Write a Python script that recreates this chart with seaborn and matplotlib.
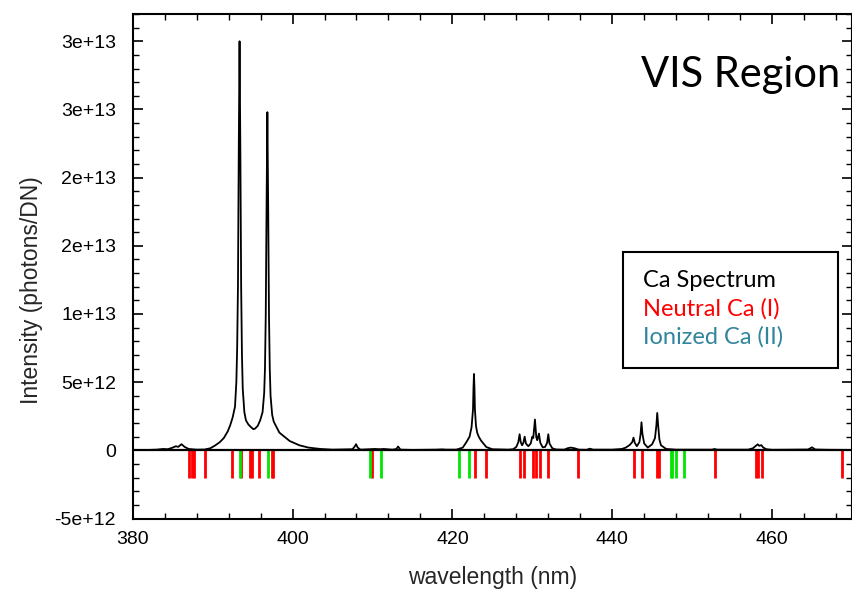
import numpy as np
import pandas as pd
import matplotlib
matplotlib.use("Agg")
import matplotlib.pyplot as plt
from matplotlib.patches import Rectangle
from matplotlib.ticker import MultipleLocator
import seaborn as sns

# ---- spectrum trace (wavelength in nm, intensity in photons/DN) ----
wavelength = [380.0, 382.0, 383.0, 383.8, 384.4, 385.0, 385.4, 385.7, 386.1, 386.5, 387.0, 388.0,
              389.0, 389.7, 390.3, 390.9, 391.4, 391.9, 392.2, 392.5, 392.8, 392.97, 393.07, 393.17,
              393.27, 393.37, 393.47, 393.57, 393.67, 393.77, 393.97, 394.17, 394.47, 394.8, 395.1,
              395.33, 395.65, 395.95, 396.25, 396.45, 396.55, 396.65, 396.75, 396.85, 396.95, 397.05,
              397.15, 397.25, 397.45, 397.65, 398.35, 399.65, 400.85, 402.0, 403.5, 405.0, 407.5,
              407.8, 407.95, 408.15, 408.5, 410.3, 411.0, 411.4, 412.5, 413.0, 413.2, 413.5, 415.0,
              418.0, 418.7, 419.2, 420.5, 421.3, 421.75, 422.15, 422.4, 422.58, 422.64, 422.7, 422.76,
              422.82, 422.95, 423.1, 423.3, 423.6, 424.25, 425.0, 427.0, 427.6, 428.0, 428.25, 428.41,
              428.55, 428.72, 428.88, 429.04, 429.2, 429.5, 429.8, 430.0, 430.12, 430.33, 430.5,
              430.62, 430.83, 431.0, 431.3, 431.6, 431.85, 432.0, 432.15, 432.5, 433.0, 434.0, 434.4,
              434.8, 435.3, 435.8, 436.8, 437.2, 437.6, 440.0, 441.2, 441.7, 442.2, 442.5, 442.66,
              442.82, 443.08, 443.4, 443.55, 443.66, 443.78, 444.0, 444.45, 445.0, 445.35, 445.52,
              445.63, 445.75, 445.9, 446.1, 446.75, 448.0, 452.5, 452.8, 453.1, 457.0, 457.6, 458.0,
              458.2, 458.4, 458.65, 458.9, 459.3, 460.0, 464.5, 465.0, 465.4, 467.0, 470.0]
intensity = [0.02e12, 0.03e12, 0.05e12, 0.10e12, 0.08e12, 0.20e12, 0.30e12, 0.25e12, 0.45e12, 0.25e12,
             0.10e12, 0.05e12, 0.06e12, 0.15e12, 0.35e12, 0.60e12, 0.90e12, 1.40e12, 1.84e12, 2.40e12,
             3.20e12, 5.0e12, 7.5e12, 1.2e13, 2.2e13, 3.0e13, 2.2e13, 1.2e13, 7.0e12, 4.5e12, 2.8e12,
             2.2e12, 1.9e12, 1.7e12, 1.55e12, 1.6e12, 1.8e12, 2.2e12, 2.8e12, 4.2e12, 6.0e12, 1.0e13,
             1.8e13, 2.48e13, 1.8e13, 1.0e13, 6.0e12, 4.0e12, 2.6e12, 2.1e12, 1.3e12, 0.68e12, 0.37e12,
             0.20e12, 0.10e12, 0.05e12, 0.08e12, 0.30e12, 0.45e12, 0.20e12, 0.05e12, 0.10e12, 0.08e12,
             0.10e12, 0.05e12, 0.10e12, 0.28e12, 0.05e12, 0.03e12, 0.05e12, 0.07e12, 0.05e12, 0.05e12,
             0.20e12, 0.60e12, 1.00e12, 1.70e12, 3.0e12, 4.6e12, 5.6e12, 4.6e12, 3.0e12, 1.8e12,
             1.3e12, 1.0e12, 0.70e12, 0.24e12, 0.08e12, 0.05e12, 0.08e12, 0.25e12, 0.60e12, 1.18e12,
             0.60e12, 0.37e12, 0.55e12, 1.00e12, 0.50e12, 0.30e12, 0.50e12, 1.00e12, 0.90e12, 2.26e12,
             0.95e12, 0.74e12, 1.23e12, 0.55e12, 0.22e12, 0.25e12, 0.55e12, 1.18e12, 0.50e12, 0.15e12,
             0.06e12, 0.05e12, 0.15e12, 0.20e12, 0.15e12, 0.05e12, 0.04e12, 0.12e12, 0.05e12, 0.05e12,
             0.10e12, 0.20e12, 0.40e12, 0.60e12, 0.93e12, 0.55e12, 0.30e12, 0.60e12, 1.20e12, 2.06e12,
             1.20e12, 0.50e12, 0.20e12, 0.45e12, 0.90e12, 1.80e12, 2.74e12, 1.80e12, 0.80e12, 0.37e12,
             0.10e12, 0.05e12, 0.05e12, 0.10e12, 0.05e12, 0.05e12, 0.15e12, 0.35e12, 0.44e12, 0.33e12,
             0.38e12, 0.20e12, 0.08e12, 0.04e12, 0.06e12, 0.22e12, 0.06e12, 0.04e12, 0.03e12]

# ---- reference line positions (nm) ----
neutral_lines = [387.1, 387.4, 387.7, 389.0, 392.4, 393.6, 394.66, 394.95, 395.8, 397.37, 397.58,
                 410.0, 422.8, 424.2, 428.4, 429.0, 430.05, 430.4, 430.9, 432.0, 435.7, 442.7,
                 443.7, 445.6, 445.8, 452.8, 458.0, 458.2, 458.7, 468.7]
ionized_lines = [393.45, 396.91, 409.75, 411.1, 420.8, 422.1, 447.3, 447.45, 448.0, 449.0]
line_depth = -2e12

# ---- axis ticks / labels ----
y_ticks = [-5e12, 0, 5e12, 1e13, 1.5e13, 2e13, 2.5e13, 3e13]
y_tick_labels = ["-5e+12", "0", "5e+12", "1e+13", "2e+13", "2e+13", "3e+13", "3e+13"]
x_ticks = [380, 400, 420, 440, 460]
x_tick_labels = ["380", "400", "420", "440", "460"]
legend_labels = ["Ca Spectrum", "Neutral Ca (I)", "Ionized Ca (II)"]
legend_colors = ["black", "#FF0000", "#31859C"]

sns.set_style("white")
plt.rcParams['font.family'] = ['Liberation Sans', 'DejaVu Sans']

W, H = 852, 594
fig = plt.figure(figsize=(W / 100, H / 100), dpi=100)
ax_left, ax_right, ax_top, ax_bottom = 132.7, 852.0, 14.0, 518.5
ax = fig.add_axes([ax_left / W, 1 - ax_bottom / H, (ax_right - ax_left) / W, (ax_bottom - ax_top) / H])

df = pd.DataFrame({"wavelength": wavelength, "intensity": intensity})

# reference lines
ax.vlines(neutral_lines, line_depth, 0, colors="#FF0000", linewidth=2.0, zorder=2)
ax.vlines(ionized_lines, line_depth, 0, colors="#00E600", linewidth=2.0, zorder=2)

sns.lineplot(data=df, x="wavelength", y="intensity", ax=ax, color="black", linewidth=1.3,
             zorder=3, estimator=None, sort=False)
ax.axhline(0, color="black", linewidth=1.6, zorder=4)

ax.set_xlim(380, 470)
ax.set_ylim(-5e12, 3.2e13)
ax.set_xticks(x_ticks)
ax.set_xticklabels(x_tick_labels)
ax.set_yticks(y_ticks)
ax.set_yticklabels(y_tick_labels)
ax.xaxis.set_minor_locator(MultipleLocator(4))
ax.yaxis.set_minor_locator(MultipleLocator(1e12))
ax.tick_params(which="both", direction="in", top=True, right=True, bottom=True, left=True,
               colors="black", labelsize=14)
ax.tick_params(which="major", length=7, width=1.2)
ax.tick_params(which="minor", length=4, width=1.0)
ax.tick_params(axis="y", which="major", pad=12)
ax.tick_params(axis="x", which="major", pad=9)
for s in ax.spines.values():
    s.set_visible(True)
    s.set_color("black")
    s.set_linewidth(1.5)

ax.set_xlabel("wavelength (nm)", fontsize=16.5)
ax.set_ylabel("Intensity (photons/DN)", fontsize=16.5)
ax.xaxis.set_label_coords(0.5, -0.095)
ax.yaxis.set_label_coords(-0.125, 0.453)

# title-like annotation
fig.text(840 / W, 1 - 87 / H, "VIS Region", fontsize=30, family=["Lato", "DejaVu Sans"],
         ha="right", va="baseline", color="black")

# legend box
fig.patches.append(Rectangle((623.3 / W, 1 - 368.3 / H), (838.3 - 623.3) / W, (368.3 - 251.7) / H,
                             transform=fig.transFigure, fill=True, facecolor="white",
                             edgecolor="black", linewidth=1.5, zorder=5))
for lbl, col, yb in zip(legend_labels, legend_colors, [287.0, 315.5, 344.0]):
    fig.text(643 / W, 1 - yb / H, lbl, fontsize=17, family=["Lato", "DejaVu Sans"],
             color=col, ha="left", va="baseline", zorder=6)

fig.savefig("out.png", dpi=100)
